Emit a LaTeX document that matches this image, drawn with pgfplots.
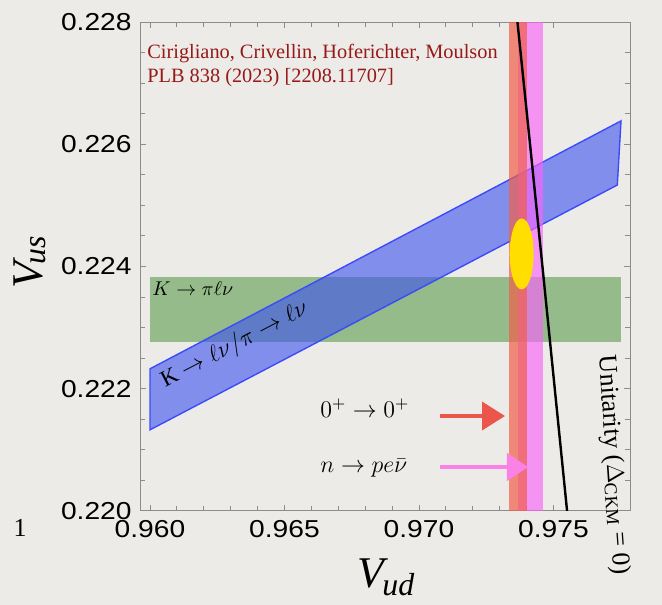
\documentclass[border=0pt]{standalone}
\usepackage{pgfplots}
\pgfplotsset{compat=1.18}
\usetikzlibrary{arrows.meta}
\usepackage{fontspec}
\setmainfont{Liberation Serif}
\newfontfamily\tickfont[FakeStretch=1.15]{Liberation Sans}
\definecolor{bg}{RGB}{237,235,231}
\definecolor{frame}{RGB}{140,140,140}
\definecolor{grn}{RGB}{90,155,75}
\definecolor{blu}{RGB}{60,80,240}
\definecolor{bluedge}{RGB}{60,75,250}
\definecolor{redb}{RGB}{240,95,75}
\definecolor{mag}{RGB}{250,100,250}
\definecolor{ylw}{RGB}{255,222,0}
\definecolor{darkred}{RGB}{150,25,25}
\definecolor{redarrow}{RGB}{235,85,75}
\definecolor{pinkarrow}{RGB}{250,130,230}

\begin{document}
\begin{tikzpicture}
\useasboundingbox (0,0) rectangle (331bp,302.5bp);
\fill[bg] (0,0) rectangle (331bp,302.5bp);
\begin{axis}[
  at={(70bp,47bp)}, anchor=south west, scale only axis,
  width=245bp, height=244.5bp,
  xmin=0.959628, xmax=0.977844, ymin=0.220, ymax=0.228,
  xtick={0.960,0.965,0.970,0.975}, xticklabels={0.960,0.965,0.970,0.975},
  ytick={0.220,0.222,0.224,0.226,0.228}, yticklabels={0.220,0.222,0.224,0.226,0.228},
  minor x tick num=4, minor y tick num=3,
  scaled ticks=false,
  tick align=inside,
  major tick length=3bp, minor tick length=2.5bp,
  axis line style={draw=frame, line width=0.5bp},
  tick style={draw=frame, line width=0.5bp},
  tick label style={font=\tickfont\fontsize{12.3}{12}\selectfont},
  xticklabel style={inner sep=0pt, yshift=-4.5bp, anchor=north},
  yticklabel style={inner sep=0pt, xshift=-4bp, anchor=east},
]
% K -> pi l nu (green)
\addplot[draw=none, fill=grn, fill opacity=0.6] coordinates {
  (0.960,0.222764) (0.97751,0.222764) (0.97751,0.223827) (0.960,0.223827)} -- cycle;
% K -> l nu / pi -> l nu (blue)
\addplot[draw=bluedge, line width=0.7bp, fill=blu, fill opacity=0.6] coordinates {
  (0.960,0.221328) (0.977372,0.225333) (0.97751,0.226382) (0.960,0.222326)} -- cycle;
% n -> p e nu (magenta)
\addplot[draw=none, fill=mag, fill opacity=0.65] coordinates {
  (0.973691,0.219) (0.974621,0.219) (0.974621,0.229) (0.973691,0.229)} -- cycle;
% 0+ -> 0+ (red)
\addplot[draw=none, fill=redb, fill opacity=0.7] coordinates {
  (0.973346,0.219) (0.974004,0.219) (0.974004,0.229) (0.973346,0.229)} -- cycle;
% combined fit (yellow ellipse)
\addplot[draw=none, fill=ylw, smooth] coordinates {
  (0.974264,0.224206) (0.974230,0.224428) (0.974133,0.224617) (0.973989,0.224743)
  (0.973818,0.224787) (0.973647,0.224743) (0.973503,0.224617) (0.973406,0.224428)
  (0.973372,0.224206) (0.973406,0.223984) (0.973503,0.223795) (0.973647,0.223669)
  (0.973818,0.223625) (0.973989,0.223669) (0.974133,0.223795) (0.974230,0.223984)
  (0.974264,0.224206)};
% unitarity
\addplot[black, line width=1.2bp] coordinates {
  (0.975505,0.220) (0.975047,0.222) (0.974589,0.224) (0.974128,0.226) (0.97366,0.228)};
% arrows
\draw[redarrow, line width=2bp, -{Triangle[length=11.5bp,width=14bp]}]
  (axis cs:0.970781,0.221554) -- (axis cs:0.973197,0.221554);
\draw[pinkarrow, line width=2bp, -{Triangle[length=10.5bp,width=13.5bp]}]
  (axis cs:0.970781,0.220720) -- (axis cs:0.974052,0.220720);
% labels
\node[anchor=base west, inner sep=0pt, text=darkred, font=\fontsize{10.2}{12}\selectfont]
  at (axis cs:0.959888,0.227408) {Cirigliano, Crivellin, Hoferichter, Moulson};
\node[anchor=base west, inner sep=0pt, text=darkred, font=\fontsize{10.2}{12}\selectfont]
  at (axis cs:0.959888,0.227016) {PLB 838 (2023) [2208.11707]};
\node[anchor=base west, inner sep=0pt, font=\fontsize{10}{12}\selectfont]
  at (axis cs:0.960074,0.223532) {$K\to\pi\ell\nu$};
\node[anchor=base west, inner sep=0pt, rotate=27.5, font=\fontsize{11.5}{12}\selectfont]
  at (axis cs:0.960558,0.222011) {$\mathrm{K}\to\ell\nu/\pi\to\ell\nu$};
\node[anchor=base west, inner sep=0pt, font=\fontsize{11.5}{12}\selectfont]
  at (axis cs:0.96632,0.221537) {$0^+\to0^+$};
\node[anchor=base west, inner sep=0pt, font=\fontsize{11.5}{12}\selectfont]
  at (axis cs:0.96632,0.220638) {$n\to pe\bar\nu$};
\end{axis}
\node[rotate=90, anchor=base, inner sep=0pt] at (21bp,171.25bp)
  {\fontsize{22}{24}\selectfont\itshape V\kern-0.05em\raisebox{-1.5bp}{\fontsize{16}{16}\selectfont us}};
\node[anchor=base, inner sep=0pt] at (193bp,9bp)
  {\fontsize{22}{24}\selectfont\itshape V\kern-0.05em\raisebox{-4bp}{\fontsize{16}{16}\selectfont ud}};
\node[inner sep=0pt, font=\fontsize{13}{14}\selectfont] at (10bp,38.5bp) {1};
\node[rotate=-86, inner sep=0pt, font=\fontsize{13}{14}\selectfont] at (306.5bp,70bp)
  {Unitarity (\(\Delta\)\textsubscript{CKM} = 0)};
\end{tikzpicture}
\end{document}
